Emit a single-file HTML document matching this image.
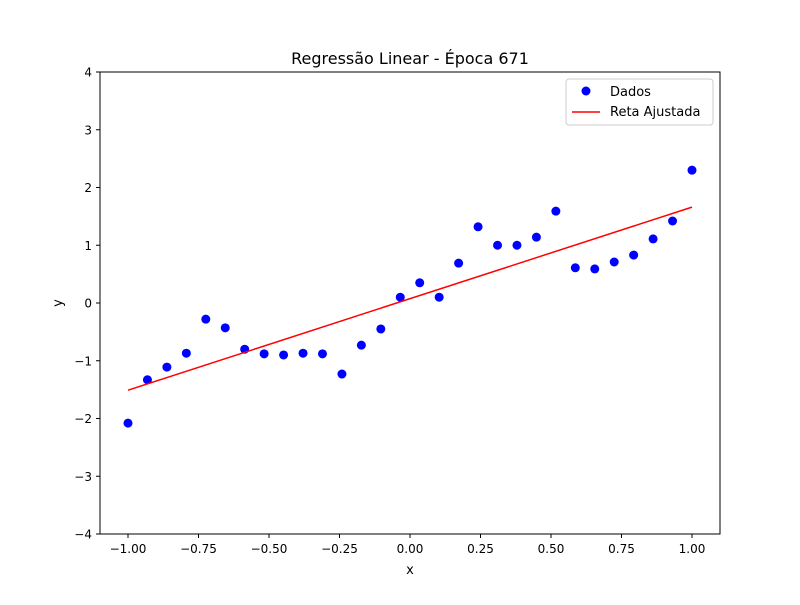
<!DOCTYPE html>
<html><head><meta charset="utf-8"><style>
body{margin:0;background:#fff;}
svg text{font-family:"DejaVu Sans","Liberation Sans",sans-serif;fill:#000;}
</style></head><body>
<svg id="chart" width="800" height="600" viewBox="0 0 800 600">
<rect width="800" height="600" fill="#fff"/>
<text x="410" y="64" font-size="16" text-anchor="middle">Regressão Linear - Época 671</text>
<g id="marks"></g>
<rect x="100" y="72" width="620" height="462" fill="none" stroke="#000" stroke-width="1"/>
<g id="xticks"></g><g id="yticks"></g>
<text x="410" y="574" font-size="13" text-anchor="middle">x</text>
<text transform="translate(62,303) rotate(-90)" font-size="13" text-anchor="middle">y</text>
<g>
<rect x="566" y="79" width="147" height="46" rx="3" fill="#fff" stroke="#ccc"/>
<circle cx="586" cy="91" r="4.5" fill="#0000ff"/>
<text x="610" y="96" font-size="13">Dados</text>
<line x1="572" y1="112" x2="600" y2="112" stroke="#ff0000" stroke-width="1.5"/>
<text x="610" y="116" font-size="13">Reta Ajustada</text>
</g>
</svg>
<script>
const yData=[-2.08,-1.33,-1.11,-0.87,-0.28,-0.43,-0.80,-0.88,-0.90,-0.87,-0.88,-1.23,-0.73,-0.45,0.10,0.35,0.10,0.69,1.32,1.00,1.00,1.14,1.59,0.61,0.59,0.71,0.83,1.11,1.42,2.30];
const xStart=-1, xEnd=1;
const lineSlope=1.585, lineIntercept=0.075;
const xTicks=[-1.0,-0.75,-0.5,-0.25,0,0.25,0.5,0.75,1.0];
const xTickLabels=["−1.00","−0.75","−0.50","−0.25","0.00","0.25","0.50","0.75","1.00"];
const yTicks=[-4,-3,-2,-1,0,1,2,3,4];
const yTickLabels=["−4","−3","−2","−1","0","1","2","3","4"];
const NS="http://www.w3.org/2000/svg";
const X=v=>410+v*282, Y=v=>303-v*57.75;
function mk(t,a,p){const e=document.createElementNS(NS,t);for(const k in a)e.setAttribute(k,a[k]);p.appendChild(e);return e;}
const marks=document.getElementById('marks');
const n=yData.length;
yData.forEach((y,i)=>{const x=xStart+(xEnd-xStart)*i/(n-1);
const c=mk('circle',{cx:X(x),cy:Y(y),r:4.5,fill:'#0000ff'},marks);

});
const ln=mk('line',{x1:X(xStart),y1:Y(lineSlope*xStart+lineIntercept),x2:X(xEnd),y2:Y(lineSlope*xEnd+lineIntercept),stroke:'#ff0000','stroke-width':1.5},marks);


const xt=document.getElementById('xticks');
xTicks.forEach((v,i)=>{mk('line',{x1:X(v),x2:X(v),y1:534,y2:538,stroke:'#000'},xt);
const t=mk('text',{x:X(v),y:553,'font-size':12,'text-anchor':'middle'},xt);t.textContent=xTickLabels[i];

});
const yt=document.getElementById('yticks');
yTicks.forEach((v,i)=>{mk('line',{x1:96,x2:100,y1:Y(v),y2:Y(v),stroke:'#000'},yt);
const t=mk('text',{x:92,y:Y(v)+4.5,'font-size':12,'text-anchor':'end'},yt);t.textContent=yTickLabels[i];

});
</script>
</body></html>
